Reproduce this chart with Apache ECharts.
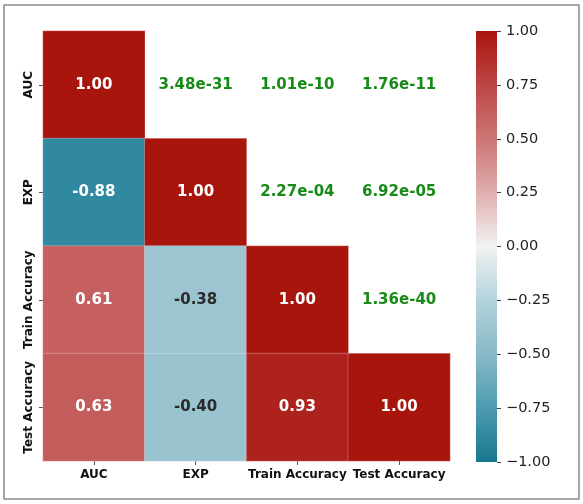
<!DOCTYPE html>
<html>
<head>
<meta charset="utf-8">
<script src="https://cdn.jsdelivr.net/npm/echarts@6/dist/echarts.min.js"></script>
<style>
  html, body { margin: 0; padding: 0; background: #fff; }
  #main { width: 583px; height: 504px; }
</style>
</head>
<body>
<div id="main"></div>
<script>
// variables and pairwise results
var labels = ['AUC', 'EXP', 'Train Accuracy', 'Test Accuracy'];
// lower triangle incl. diagonal: [col, row, r]
var corrValues = [
  [0, 0, 1.00],
  [0, 1, -0.88], [1, 1, 1.00],
  [0, 2, 0.61], [1, 2, -0.38], [2, 2, 1.00],
  [0, 3, 0.63], [1, 3, -0.40], [2, 3, 0.93], [3, 3, 1.00]
];
// upper triangle: [col, row, p-value text]
var pValues = [
  [1, 0, '3.48e-31'], [2, 0, '1.01e-10'], [3, 0, '1.76e-11'],
  [2, 1, '2.27e-04'], [3, 1, '6.92e-05'],
  [3, 2, '1.36e-40']
];
var colorTicks = [-1, -0.75, -0.5, -0.25, 0, 0.25, 0.5, 0.75, 1];
var palette = ['#17788f', '#4e9bb0', '#88b9c7', '#b3d3dc', '#f2f2f2',
               '#dfaeae', '#cd7575', '#bd4545', '#a8150d'];

var font = 'DejaVu Sans';
var myChart = echarts.init(document.getElementById('main'));

var heatData = corrValues.map(function (d) {
  return {
    value: d,
    label: { color: Math.abs(d[2]) < 0.5 ? '#2a2a2a' : '#ffffff' }
  };
});

// colour bar gradient, bottom (-1) to top (+1)
var barStops = palette.map(function (c, i) {
  return { offset: i / (palette.length - 1), color: c };
});

var option = {
  backgroundColor: '#fff',
  animation: false,
  graphic: [{
    type: 'rect',
    shape: { x: 4, y: 5, width: 575, height: 494 },
    style: { fill: 'none', stroke: '#8a8a8a', lineWidth: 1.5 },
    silent: true
  }, {
    type: 'rect',
    shape: { x: 476, y: 31, width: 21, height: 431 },
    style: { fill: new echarts.graphic.LinearGradient(0, 1, 0, 0, barStops) },
    silent: true
  }],
  grid: [
    { left: 43, top: 31, width: 407, height: 430 },
    { left: 476, top: 31, width: 21, height: 431 }
  ],
  xAxis: [{
    type: 'category',
    data: labels,
    gridIndex: 0,
    axisLine: { show: false },
    axisTick: { show: true, length: 4, alignWithLabel: true, lineStyle: { color: '#555' } },
    axisLabel: { fontFamily: font, fontWeight: 'bold', fontSize: 12, color: '#111', margin: 8, interval: 0 }
  }, {
    type: 'value',
    gridIndex: 1,
    min: 0,
    max: 1,
    show: false
  }],
  yAxis: [{
    type: 'category',
    data: labels,
    inverse: true,
    gridIndex: 0,
    axisLine: { show: false },
    axisTick: { show: true, length: 4, alignWithLabel: true, lineStyle: { color: '#555' } },
    axisLabel: { fontFamily: font, fontWeight: 'bold', fontSize: 12, color: '#111', rotate: 90, margin: 8, interval: 0 }
  }, {
    type: 'value',
    gridIndex: 1,
    position: 'right',
    min: -1,
    max: 1,
    interval: 0.25,
    axisLine: { show: false, onZero: false },
    splitLine: { show: false },
    axisTick: { show: true, length: 4, lineStyle: { color: '#444' } },
    axisLabel: {
      fontFamily: font, fontSize: 14.5, color: '#222', margin: 9,
      formatter: function (v) { return v.toFixed(2).replace('-', '\u2212'); }
    }
  }],
  visualMap: {
    type: 'continuous',
    show: false,
    min: -1,
    max: 1,
    seriesIndex: 0,
    inRange: { color: palette }
  },
  series: [{
    type: 'heatmap',
    xAxisIndex: 0,
    yAxisIndex: 0,
    data: heatData,
    itemStyle: { borderColor: 'rgba(255,255,255,0.3)', borderWidth: 0.8 },
    label: {
      show: true,
      fontFamily: font,
      fontWeight: 'bold',
      fontSize: 15,
      formatter: function (p) { return p.value[2].toFixed(2); }
    }
  }, {
    type: 'heatmap',
    xAxisIndex: 0,
    yAxisIndex: 0,
    data: pValues.map(function (d) { return [d[0], d[1], 0, d[2]]; }),
    itemStyle: { color: 'rgba(0,0,0,0)' },
    label: {
      show: true,
      fontFamily: font,
      fontWeight: 'bold',
      fontSize: 15,
      color: '#178a17',
      formatter: function (p) { return p.value[3]; }
    }
  }]
};

myChart.setOption(option);
</script>
</body>
</html>
